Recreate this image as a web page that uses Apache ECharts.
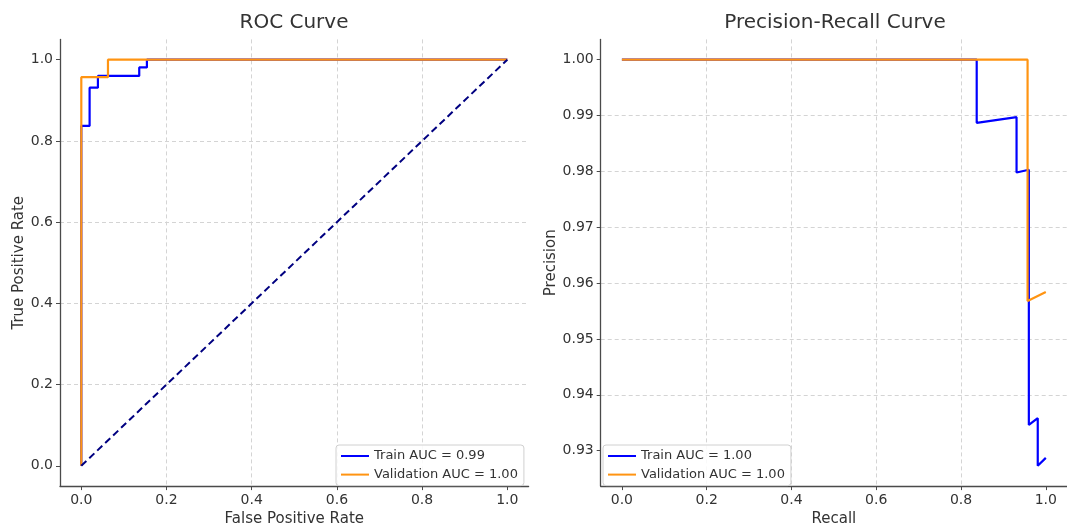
<!DOCTYPE html>
<html>
<head>
<meta charset="utf-8">
<script src="https://cdn.jsdelivr.net/npm/echarts@6/dist/echarts.min.js"></script>
<style>
html,body{margin:0;padding:0;background:#fff;}
#chart{width:1067px;height:532px;}
</style>
</head>
<body>
<div id="chart"></div>
<script>
// ---- data ----
const rocTicks = [0, 0.2, 0.4, 0.6, 0.8, 1.0];
const recallTicks = [0, 0.2, 0.4, 0.6, 0.8, 1.0];
const precisionTicks = [0.93, 0.94, 0.95, 0.96, 0.97, 0.98, 0.99, 1.00];

const rocTrainFpr = [0, 0, 0.0195, 0.0195, 0.039, 0.039, 0.136, 0.136, 0.154, 0.154, 1.0];
const rocTrainTpr = [0, 0.837, 0.837, 0.931, 0.931, 0.960, 0.960, 0.981, 0.981, 1.0, 1.0];
const rocValFpr = [0, 0, 0.0626, 0.0626, 1.0];
const rocValTpr = [0, 0.957, 0.957, 1.0, 1.0];
const chanceX = [0, 1];
const chanceY = [0, 1];

const prTrainRecall = [0, 0.837, 0.837, 0.931, 0.931, 0.960, 0.960, 0.981, 0.981, 1.0];
const prTrainPrecision = [1.0, 1.0, 0.9887, 0.9897, 0.9798, 0.9803, 0.9346, 0.9358, 0.9273, 0.9287];
const prValRecall = [0, 0.957, 0.957, 1.0];
const prValPrecision = [1.0, 1.0, 0.9568, 0.9584];

const rocLegend = ['Train AUC = 0.99', 'Validation AUC = 1.00'];
const prLegend = ['Train AUC = 1.00', 'Validation AUC = 1.00'];

// ---- helpers ----
const zip = (a, b) => a.map((v, i) => [v, b[i]]);
const FONT = 'DejaVu Sans';
const TXT = '#333333';
const BLUE = '#0000ff';
const ORANGE = '#ff9412';
const NAVY = '#000080';
const AX = '#4a4a4a';

function valAxis(opts, ticks, digits) {
  return Object.assign({
    type: 'value',
    nameLocation: 'middle',
    nameTextStyle: { fontFamily: FONT, fontSize: 15, color: TXT },
    axisLine: { show: true, onZero: false, lineStyle: { color: AX, width: 1.3 } },
    axisTick: { show: true, length: 4, customValues: ticks, lineStyle: { color: AX, width: 1 } },
    axisLabel: { fontFamily: FONT, fontSize: 14, color: TXT, margin: 7, customValues: ticks,
      formatter: v => v.toFixed(digits) },
    splitLine: { show: true, showMinLine: false, showMaxLine: false,
      lineStyle: { color: '#d4d4d4', type: [4, 3], width: 1 } }
  }, opts);
}

function legendBox(names, left) {
  return { data: names, orient: 'vertical', left: left, top: 445, icon: 'rect',
    itemWidth: 28, itemHeight: 2, itemGap: 2.6, itemTextGap: 10,
    padding: [3, 6, 3, 5], borderColor: '#d0d0d0', borderWidth: 1, borderRadius: 3,
    backgroundColor: 'rgba(255,255,255,0.85)',
    textStyle: { fontFamily: FONT, fontSize: 13, color: TXT, lineHeight: 16 } };
}

const chart = echarts.init(document.getElementById('chart'), null, { renderer: 'canvas' });

const option = {
  animation: false,
  backgroundColor: '#ffffff',
  title: [
    { text: 'ROC Curve', left: 294, top: 13, padding: 0, textAlign: 'center',
      textStyle: { fontFamily: FONT, fontSize: 20, fontWeight: 'normal', color: TXT } },
    { text: 'Precision-Recall Curve', left: 835, top: 13, padding: 0, textAlign: 'center',
      textStyle: { fontFamily: FONT, fontSize: 20, fontWeight: 'normal', color: TXT } }
  ],
  legend: [ legendBox(rocLegend, 336), legendBox(prLegend, 603) ],
  grid: [
    { left: 60, top: 39.4, width: 468.6, height: 453.3 },
    { left: 600.7, top: 39.4, width: 468.6, height: 453.3 }
  ],
  xAxis: [
    valAxis({ gridIndex: 0, min: -0.05, max: 1.05, minInterval: 0.2, maxInterval: 0.2,
      name: 'False Positive Rate', nameGap: 22 }, rocTicks, 1),
    valAxis({ gridIndex: 1, min: -0.05, max: 1.05, minInterval: 0.2, maxInterval: 0.2,
      name: 'Recall', nameGap: 22 }, recallTicks, 1)
  ],
  yAxis: [
    valAxis({ gridIndex: 0, min: -0.05, max: 1.05, minInterval: 0.2, maxInterval: 0.2,
      name: 'True Positive Rate', nameGap: 33 }, rocTicks, 1),
    valAxis({ gridIndex: 1, min: 0.92365, max: 1.00363, minInterval: 0.01, maxInterval: 0.01,
      name: 'Precision', nameGap: 42 }, precisionTicks, 2)
  ],
  series: [
    { name: rocLegend[0], type: 'line', xAxisIndex: 0, yAxisIndex: 0, data: zip(rocTrainFpr, rocTrainTpr),
      showSymbol: false, symbol: 'none', color: BLUE, lineStyle: { color: BLUE, width: 2.2 } },
    { name: rocLegend[1], type: 'line', xAxisIndex: 0, yAxisIndex: 0, data: zip(rocValFpr, rocValTpr),
      showSymbol: false, symbol: 'none', color: ORANGE, lineStyle: { color: ORANGE, width: 2.2 } },
    { name: 'chance', type: 'line', xAxisIndex: 0, yAxisIndex: 0, data: zip(chanceX, chanceY),
      showSymbol: false, symbol: 'none', color: NAVY, lineStyle: { color: NAVY, width: 2, type: [7, 4] } },
    { name: prLegend[0], type: 'line', xAxisIndex: 1, yAxisIndex: 1, data: zip(prTrainRecall, prTrainPrecision),
      showSymbol: false, symbol: 'none', color: BLUE, lineStyle: { color: BLUE, width: 2.2 } },
    { name: prLegend[1], type: 'line', xAxisIndex: 1, yAxisIndex: 1, data: zip(prValRecall, prValPrecision),
      showSymbol: false, symbol: 'none', color: ORANGE, lineStyle: { color: ORANGE, width: 2.2 } }
  ]
};
chart.setOption(option);
</script>
</body>
</html>
